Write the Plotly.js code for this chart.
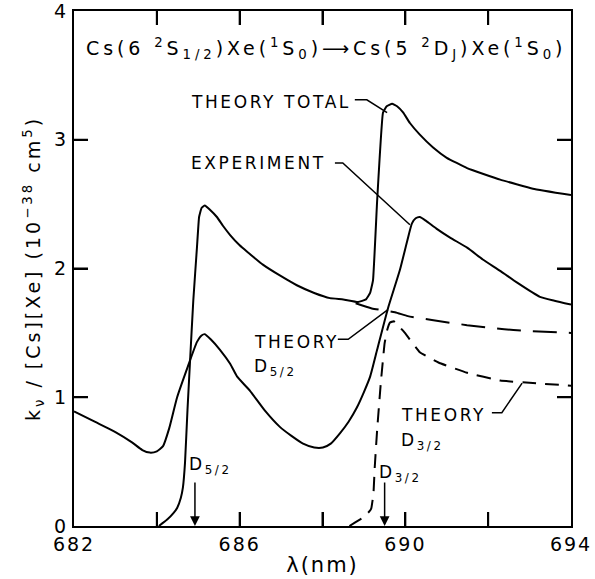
<!DOCTYPE html>
<html>
<head>
<meta charset="utf-8">
<script src="https://cdn.plot.ly/plotly-3.0.1.min.js"></script>
<style>
  html, body { margin: 0; padding: 0; background: #fff; }
  #chart { width: 595px; height: 579px; }
</style>
</head>
<body>
<div id="chart"></div>
<script>
// ---- Data ----
// Experiment (solid)
const expX = [682.00, 682.50, 683.00, 683.40, 683.65, 683.83, 684.00, 684.15, 684.30, 684.49,
              684.75, 684.97, 685.08, 685.16, 685.30, 685.52, 685.77, 685.94, 686.25, 686.60,
              686.97, 687.25, 687.53, 687.80, 688.01, 688.20, 688.42, 688.63, 688.83, 689.00,
              689.15, 689.32, 689.58, 689.87, 690.05, 690.16, 690.25, 690.35, 690.50, 690.75,
              691.08, 691.50, 691.87, 692.30, 692.70, 693.25, 693.60, 694.00];
const expY = [0.89, 0.81, 0.73, 0.65, 0.59, 0.57, 0.58, 0.62, 0.76, 1.00,
              1.24, 1.43, 1.48, 1.49, 1.45, 1.37, 1.26, 1.16, 1.05, 0.90,
              0.77, 0.70, 0.64, 0.61, 0.61, 0.64, 0.72, 0.81, 0.92, 1.04,
              1.16, 1.37, 1.69, 1.99, 2.22, 2.35, 2.39, 2.40, 2.37, 2.31,
              2.24, 2.16, 2.07, 1.98, 1.89, 1.78, 1.75, 1.72];

// Theory total (solid)
const totX = [684.05, 684.25, 684.40, 684.49, 684.58, 684.63, 684.68, 684.74, 684.80, 684.88,
              684.97, 685.02, 685.08, 685.16, 685.27, 685.45, 685.60, 685.77, 686.00, 686.18,
              686.56, 687.00, 687.38, 687.80, 688.18, 688.50, 688.86, 689.05, 689.15, 689.22,
              689.32, 689.46, 689.55, 689.68, 689.80, 689.95, 690.11, 690.35, 690.67, 691.00,
              691.49, 692.29, 693.08, 694.00];
const totY = [0.00, 0.05, 0.10, 0.14, 0.22, 0.30, 0.49, 0.90, 1.27, 1.75,
              2.17, 2.40, 2.47, 2.49, 2.46, 2.40, 2.33, 2.26, 2.18, 2.13,
              2.03, 1.94, 1.87, 1.81, 1.77, 1.76, 1.74, 1.76, 1.81, 1.91,
              2.53, 3.21, 3.26, 3.28, 3.26, 3.21, 3.13, 3.04, 2.94, 2.86,
              2.78, 2.69, 2.62, 2.57];

// Theory D5/2 (long dashes, shown where it departs from the total)
const d52X = [688.80, 689.19, 689.75, 690.06, 690.64, 691.49, 692.70, 694.00];
const d52Y = [1.73, 1.69, 1.66, 1.63, 1.60, 1.56, 1.52, 1.50];

// Theory D3/2 (short dashes)
const d32X = [688.65, 688.80, 689.00, 689.15, 689.18, 689.23, 689.26, 689.32, 689.41, 689.50,
              689.56, 689.63, 689.72, 689.82, 689.99, 690.35, 690.80, 691.49, 692.29, 693.08, 694.00];
const d32Y = [0.00, 0.03, 0.07, 0.12, 0.14, 0.25, 0.45, 0.75, 1.12, 1.42,
              1.52, 1.58, 1.59, 1.56, 1.50, 1.35, 1.27, 1.19, 1.13, 1.11, 1.09];

// Line positions (wavelengths, nm) marked by arrows
const lineNames = ['D<sub>5/2</sub>', 'D<sub>3/2</sub>'];
const lineX = [684.92, 689.50];

// Axis ticks
const xTickVals = [682, 684, 686, 688, 690, 692, 694];
const xTickText = ['682', '', '686', '', '690', '', '694'];
const yTickVals = [0, 1, 2, 3, 4];
const yTickText = ['0', '1', '2', '3', '4'];

// ---- Plot ----
const FONT = 'DejaVu Sans, Liberation Sans, sans-serif';
const black = '#000';

const traces = [
  {x: expX, y: expY, mode: 'lines', name: 'Experiment', line: {color: black, width: 2, shape: 'spline', smoothing: 0.5}},
  {x: totX, y: totY, mode: 'lines', name: 'Theory total', line: {color: black, width: 2, shape: 'spline', smoothing: 0.3}},
  {x: d52X, y: d52Y, mode: 'lines', name: 'Theory D5/2', line: {color: black, width: 2, dash: '24px,12px', shape: 'spline', smoothing: 0.5}},
  {x: d32X, y: d32Y, mode: 'lines', name: 'Theory D3/2', line: {color: black, width: 2, dash: '14px,9px', shape: 'spline', smoothing: 0.3}}
];

const labelFont = {family: FONT, size: 17, color: black};
const annotations = [
  {x: 684.80, y: 3.29, text: 'THEORY TOTAL'},
  {x: 684.80, y: 2.82, text: 'EXPERIMENT'},
  {x: 686.32, y: 1.43, text: 'THEORY'},
  {x: 686.32, y: 1.23, text: 'D<sub>5/2</sub>'},
  {x: 689.87, y: 0.86, text: 'THEORY'},
  {x: 689.87, y: 0.66, text: 'D<sub>3/2</sub>'},
  {x: 684.75, y: 0.47, text: lineNames[0]},
  {x: 689.34, y: 0.41, text: lineNames[1]}
].map(a => Object.assign({xref: 'x', yref: 'y', xanchor: 'left', yanchor: 'middle',
                          align: 'left', showarrow: false, font: labelFont, borderpad: 0}, a));

// arrows marking line positions
lineX.forEach(x0 => {
  annotations.push({x: x0, y: 0, ax: x0, ay: 0.35, xref: 'x', yref: 'y', axref: 'x', ayref: 'y',
                    text: '', showarrow: true, arrowhead: 2, arrowsize: 1.3, arrowwidth: 1.5,
                    arrowcolor: black, standoff: 0});
});

// leader lines from labels to curves
const leader = (pts) => ({type: 'path', xref: 'x', yref: 'y',
  path: 'M' + pts.map(p => p[0] + ',' + p[1]).join(' L'), line: {color: black, width: 1.5}});
const shapes = [
  leader([[688.78, 3.31], [689.07, 3.31], [689.56, 3.21]]),
  leader([[688.30, 2.82], [688.49, 2.82], [690.11, 2.34]]),
  leader([[688.37, 1.45], [688.62, 1.45], [689.58, 1.68]]),
  leader([[692.09, 0.88], [692.33, 0.88], [692.82, 1.11]])
];

// inward tick marks on all four sides, placed by the axes (fixed pixel length)
const TICK = 14;
const tickLine = {color: black, width: 2};
xTickVals.slice(1, -1).forEach(v => {
  shapes.push({type: 'line', xref: 'x', yref: 'paper', x0: v, x1: v, ysizemode: 'pixel', yanchor: 0, y0: 0, y1: TICK, line: tickLine});
  shapes.push({type: 'line', xref: 'x', yref: 'paper', x0: v, x1: v, ysizemode: 'pixel', yanchor: 1, y0: 0, y1: -TICK, line: tickLine});
});
yTickVals.slice(1, -1).forEach(v => {
  shapes.push({type: 'line', xref: 'paper', yref: 'y', y0: v, y1: v, xsizemode: 'pixel', xanchor: 0, x0: 0, x1: TICK, line: tickLine});
  shapes.push({type: 'line', xref: 'paper', yref: 'y', y0: v, y1: v, xsizemode: 'pixel', xanchor: 1, x0: 0, x1: -TICK, line: tickLine});
});

const axisCommon = {
  showline: true, linecolor: black, linewidth: 2, mirror: 'ticks',
  ticks: 'inside', ticklen: TICK, tickwidth: 2, tickcolor: black,
  showgrid: false, zeroline: false, fixedrange: true, ticklabeloverflow: 'allow',
  tickfont: {family: FONT, size: 19, color: black}
};

const layout = {
  width: 595, height: 579,
  margin: {l: 74, r: 24, t: 11, b: 53},
  paper_bgcolor: '#fff', plot_bgcolor: '#fff',
  showlegend: false,
  title: {
    text: 'Cs(6 <sup>2</sup>S<sub>1/2</sub>)Xe(<sup>1</sup>S<sub>0</sub>)⟶Cs(5 <sup>2</sup>D<sub>J</sub>)Xe(<sup>1</sup>S<sub>0</sub>)',
    x: 86 / 595, xanchor: 'left', y: 1 - 48 / 579, yanchor: 'middle',
    font: {family: FONT, size: 19, color: black}
  },
  xaxis: Object.assign({}, axisCommon, {
    range: [682, 694], tickmode: 'array', tickvals: xTickVals, ticktext: xTickText,
    title: {text: 'λ(nm)', font: {family: FONT, size: 21, color: black}, standoff: 4}
  }),
  yaxis: Object.assign({}, axisCommon, {
    range: [0, 4], tickmode: 'array', tickvals: yTickVals, ticktext: yTickText,
    title: {text: 'k<sub>ν</sub> / [Cs][Xe] (10<sup>−38</sup> cm<sup>5</sup>)',
            font: {family: FONT, size: 19, color: black}, standoff: 10}
  }),
  annotations: annotations,
  shapes: shapes
};

// the lettering of the original is widely spaced: add letter spacing once drawn
function spaceLetters(gd) {
  const set = (sel, v) => gd.querySelectorAll(sel).forEach(t => { t.style.letterSpacing = v; });
  set('.xtick text, .ytick text', '2px');
  set('.annotation-text', '2.6px');
  set('.gtitle', '3.9px');
  set('.ytitle', '3px');
  set('.xtitle', '2px');
}

Plotly.newPlot('chart', traces, layout, {displayModeBar: false, staticPlot: true}).then(spaceLetters);
</script>
</body>
</html>
